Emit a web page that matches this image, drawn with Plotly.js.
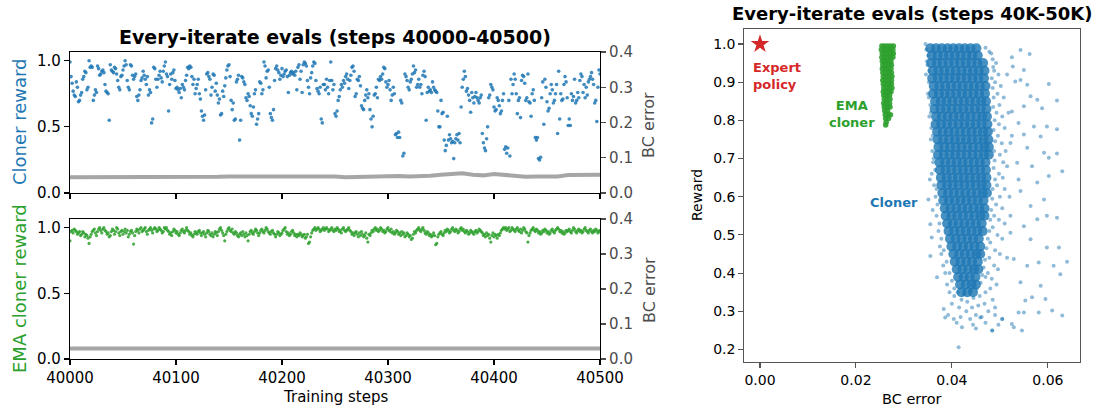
<!DOCTYPE html>
<html><head><meta charset="utf-8">
<script src="https://cdn.plot.ly/plotly-3.0.1.min.js"></script>
<style>html,body{margin:0;padding:0;background:#fff}#chart{width:1094px;height:411px}</style>
</head><body><div id="chart"></div>
<script>
// ---------------- DATA ----------------
const stepStart = 40000;
const stepEnd = 40500;
const stepTicks = [40000, 40100, 40200, 40300, 40400, 40500];

// Cloner reward, one value per training step 40000..40500
const clonerReward = [
0.99,0.88,0.83,0.77,0.74,0.73,0.84,0.80,0.69,0.70,
0.74,0.76,0.86,0.88,0.92,0.91,0.78,0.80,1.00,0.95,
0.96,0.95,0.70,0.74,0.78,0.76,0.96,0.94,0.89,0.90,
0.92,0.93,0.91,0.82,0.77,0.76,0.75,0.55,0.97,0.93,
0.92,0.91,0.95,0.94,0.90,0.85,0.80,0.78,0.88,0.89,
0.93,0.96,1.00,0.97,0.85,0.80,0.78,0.97,0.96,0.89,
0.86,0.88,0.90,0.73,0.70,0.74,0.78,0.85,0.87,0.92,
0.89,0.86,0.82,0.88,0.74,0.78,0.76,0.53,0.56,0.95,
0.94,0.86,0.80,0.86,0.89,0.92,0.87,0.84,0.92,0.96,
0.99,0.90,0.88,0.62,0.82,0.90,0.86,0.91,0.93,0.85,
0.79,0.80,0.78,0.76,0.79,0.72,0.82,0.80,0.78,0.85,
0.89,0.95,0.94,0.96,0.95,0.88,0.82,0.86,0.75,0.79,
0.82,0.86,0.75,0.71,0.62,0.58,0.55,0.59,0.78,0.90,
0.91,0.88,0.86,0.74,0.80,0.90,0.89,0.77,0.83,0.74,
0.68,0.71,0.59,0.60,0.77,0.73,0.81,0.87,0.93,0.96,
0.97,0.88,0.70,0.63,0.68,0.55,0.56,0.84,0.86,0.89,
0.40,0.55,0.88,0.87,0.84,0.82,0.72,0.70,0.75,0.73,
0.66,0.60,0.58,0.65,0.75,0.78,0.52,0.56,0.60,0.84,
0.83,0.75,0.78,0.99,0.96,0.87,0.92,0.93,0.80,0.60,
0.57,0.55,0.63,0.85,0.94,0.96,0.93,0.91,0.86,0.89,
0.94,0.88,0.90,0.92,0.93,0.88,0.76,0.89,0.91,0.92,
0.90,0.91,0.89,0.92,0.78,0.95,0.97,0.86,0.92,0.76,
0.97,0.99,0.98,0.96,0.85,0.80,0.75,0.87,0.91,0.96,
0.99,0.98,0.85,0.79,0.77,0.75,0.80,0.56,0.53,0.82,
0.82,0.78,0.86,0.80,0.75,0.85,0.99,0.85,0.78,0.82,
0.60,0.58,0.62,0.70,0.73,0.78,0.82,0.80,0.85,0.83,
0.88,0.90,0.86,0.79,0.85,0.89,0.95,0.96,0.92,0.73,
0.75,0.86,0.85,0.88,0.81,0.66,0.64,0.63,0.70,0.74,
0.78,0.72,0.75,0.63,0.56,0.50,0.58,0.74,0.75,0.80,
0.72,0.86,0.85,0.88,0.86,0.90,0.95,0.94,0.84,0.80,
0.82,0.85,0.78,0.70,0.74,0.80,0.75,0.44,0.45,0.42,
0.46,0.42,0.70,0.68,0.28,0.30,0.90,0.88,0.85,0.80,
0.78,0.84,0.86,0.90,0.96,0.91,0.93,0.80,0.82,0.86,
0.80,0.82,0.75,0.89,0.92,0.88,0.55,0.76,0.80,0.77,
0.78,0.76,0.84,0.80,0.78,0.77,0.76,0.62,0.50,0.50,
0.70,0.60,0.61,0.40,0.32,0.36,0.58,0.40,0.44,0.41,
0.38,0.39,0.26,0.38,0.41,0.44,0.40,0.45,0.38,0.65,
0.80,0.86,0.92,0.88,0.77,0.79,0.74,0.70,0.61,0.76,
0.72,0.68,0.73,0.76,0.72,0.70,0.68,0.72,0.74,0.45,
0.38,0.34,0.32,0.41,0.50,0.72,0.74,0.82,0.80,0.78,
0.65,0.62,0.63,0.72,0.70,0.66,0.60,0.62,0.70,0.75,
0.33,0.35,0.30,0.34,0.70,0.28,0.86,0.75,0.82,0.90,
0.86,0.75,0.60,0.70,0.72,0.57,0.85,0.89,0.88,0.83,
0.70,0.72,0.90,0.69,0.68,0.58,0.75,0.78,0.70,0.42,
0.40,0.42,0.26,0.25,0.27,0.72,0.84,0.52,0.86,0.80,
0.69,0.62,0.64,0.75,0.82,0.78,0.68,0.70,0.75,0.82,
0.45,0.92,0.56,0.75,0.70,0.71,0.82,0.88,0.84,0.72,
0.51,0.56,0.51,0.75,0.70,0.73,0.86,0.68,0.70,0.76,
0.72,0.85,0.90,0.88,0.76,0.82,0.72,0.80,0.74,0.84,
0.86,0.88,0.91,0.86,0.82,0.68,0.70,0.54,0.80,0.93,
0.90
];

// EMA cloner reward, one value per training step 40000..40500
const emaReward = [
0.90,0.97,0.98,0.96,0.99,0.98,0.97,0.95,0.96,0.97,
0.94,0.95,0.97,0.96,0.93,0.95,0.94,0.92,0.88,0.93,
0.95,0.97,0.98,0.99,0.96,0.94,0.97,0.99,1.00,0.98,
0.96,0.99,1.00,0.98,0.97,0.95,0.96,0.93,0.94,0.97,
0.99,0.98,0.95,0.97,1.00,0.99,0.96,0.94,0.97,0.98,
0.95,0.97,0.99,0.96,0.98,0.93,0.95,0.97,0.98,0.96,
0.875,0.94,0.97,0.99,0.98,0.96,0.99,1.00,0.97,0.98,
0.99,1.00,0.97,0.95,0.98,0.99,1.00,0.98,0.96,0.99,
1.00,0.99,0.97,0.98,1.00,0.99,0.98,0.96,0.97,1.00,
0.99,1.00,0.98,0.97,0.95,0.96,0.94,0.97,0.99,0.98,
0.96,0.97,0.95,0.94,0.96,0.98,0.99,0.97,0.96,0.98,
1.00,0.98,0.97,0.95,0.96,0.94,0.93,0.95,0.97,0.96,
0.95,0.97,0.98,0.96,0.94,0.96,0.97,0.95,0.93,0.96,
0.98,0.97,0.95,0.94,0.96,0.93,0.95,0.97,0.96,0.94,
0.97,0.99,1.00,0.98,0.96,0.94,0.90,0.95,0.97,0.99,
1.00,0.98,0.97,0.99,0.96,0.95,0.97,0.96,0.94,0.93,
0.95,0.96,0.94,0.97,0.95,0.93,0.96,0.94,0.90,0.95,
0.97,0.98,0.96,0.95,0.97,0.99,0.98,0.96,0.94,0.96,
0.98,0.99,0.97,0.96,0.98,1.00,0.99,0.97,0.96,0.95,
0.97,0.98,0.96,0.95,0.93,0.95,0.97,0.96,0.94,0.95,
0.96,0.98,0.99,1.00,0.97,0.95,0.96,0.94,0.95,0.97,
0.98,0.96,0.94,0.95,0.93,0.95,0.94,0.96,0.95,0.93,
0.94,0.95,0.92,0.93,0.95,0.88,0.89,0.93,0.96,0.98,
0.99,1.00,0.98,0.99,1.00,0.99,0.97,0.98,0.99,1.00,
0.98,0.99,1.00,0.99,0.97,0.98,0.99,1.00,0.98,0.97,
0.99,0.98,1.00,0.99,0.97,0.98,0.96,0.99,1.00,0.98,
0.97,0.98,0.99,1.00,0.98,0.97,0.95,0.96,0.94,0.96,
0.97,0.95,0.93,0.96,0.94,0.97,0.95,0.93,0.94,0.96,
0.92,0.89,0.95,0.94,0.96,0.98,0.97,0.99,1.00,0.98,
0.99,0.97,0.98,1.00,0.99,0.97,0.98,0.96,0.97,0.99,
1.00,0.98,0.97,0.99,0.96,0.97,0.95,0.96,0.98,0.97,
0.95,0.96,0.94,0.97,0.95,0.96,0.93,0.94,0.96,0.95,
0.93,0.94,0.91,0.92,0.95,0.97,0.96,0.98,0.99,1.00,
0.98,0.97,0.99,1.00,0.98,0.96,0.95,0.97,0.96,0.94,
0.95,0.93,0.94,0.96,0.94,0.87,0.88,0.93,0.95,0.96,
0.97,0.95,0.94,0.96,0.98,0.97,0.99,0.98,0.96,0.97,
0.99,1.00,0.98,0.97,0.99,0.98,0.96,0.97,0.99,1.00,
0.98,0.99,0.97,0.96,0.98,0.97,0.95,0.96,0.98,0.97,
0.96,0.95,0.97,0.98,0.96,0.97,0.99,0.98,0.97,0.96,
0.94,0.95,0.93,0.96,0.94,0.95,0.92,0.89,0.94,0.96,
0.93,0.95,0.94,0.92,0.95,0.94,0.96,0.98,0.99,1.00,
0.99,1.00,0.98,0.99,1.00,0.97,0.98,1.00,0.99,0.98,
0.97,0.99,1.00,0.98,0.97,0.99,0.96,0.98,1.00,0.99,
0.97,0.96,0.89,0.94,0.96,0.98,0.99,1.00,0.98,0.97,
0.99,0.98,0.96,0.97,0.95,0.96,0.98,0.97,0.99,0.98,
0.96,0.97,0.95,0.96,0.98,0.99,0.97,0.96,0.98,0.99,
1.00,0.99,0.97,0.98,0.96,0.97,0.95,0.96,0.98,0.97,
0.98,0.99,0.97,0.96,0.98,1.00,0.99,0.97,0.96,0.98,
0.99,0.97,0.98,0.96,0.97,0.99,1.00,0.98,0.97,0.96,
0.98,0.99,0.97,0.96,0.98,0.97,0.99,0.98,0.96,0.97,
0.98
];

// BC error, sampled every 10 steps from 40000 to 40500
const bcStride = 10;
const clonerBCError = [
0.045,0.045,0.044,0.045,0.045,0.044,0.044,0.045,0.045,0.046,
0.046,0.045,0.044,0.045,0.046,0.047,0.047,0.047,0.048,0.047,
0.047,0.046,0.046,0.046,0.048,0.047,0.045,0.046,0.046,0.047,
0.048,0.048,0.047,0.047,0.049,0.052,0.055,0.056,0.052,0.050,
0.054,0.051,0.047,0.046,0.047,0.046,0.047,0.051,0.052,0.052,
0.052
];
const emaBCError = [
0.030,0.030,0.030,0.030,0.030,0.030,0.030,0.030,0.030,0.030,
0.030,0.030,0.030,0.030,0.030,0.030,0.030,0.030,0.030,0.030,
0.030,0.030,0.030,0.030,0.031,0.031,0.031,0.030,0.030,0.030,
0.030,0.030,0.030,0.030,0.030,0.030,0.030,0.030,0.030,0.030,
0.030,0.030,0.030,0.030,0.030,0.030,0.030,0.030,0.030,0.030,
0.030
];

// Right panel: BC error vs reward, steps 40K-50K
const expertPoint = {bcError: 0.0, reward: 1.0};

// dense cloner core, rows of [reward, [bc errors...]]
const clonerCoreRows = [
[0.989,[0.0355,0.0367,0.0379,0.0391,0.0403,0.0415,0.0427,0.0439,0.0451]],
[0.970,[0.0358,0.0370,0.0382,0.0394,0.0406,0.0418,0.0430,0.0442,0.0454]],
[0.950,[0.0357,0.0369,0.0381,0.0393,0.0405,0.0417,0.0429,0.0441,0.0453,0.0465]],
[0.930,[0.0360,0.0372,0.0384,0.0396,0.0408,0.0420,0.0432,0.0444,0.0456,0.0468]],
[0.910,[0.0359,0.0371,0.0383,0.0395,0.0407,0.0419,0.0431,0.0443,0.0455,0.0467]],
[0.890,[0.0362,0.0374,0.0386,0.0398,0.0410,0.0422,0.0434,0.0446,0.0458,0.0470]],
[0.870,[0.0361,0.0373,0.0385,0.0397,0.0409,0.0421,0.0433,0.0445,0.0457,0.0469]],
[0.850,[0.0365,0.0377,0.0389,0.0401,0.0413,0.0425,0.0437,0.0449,0.0461,0.0471]],
[0.830,[0.0364,0.0376,0.0388,0.0400,0.0412,0.0424,0.0436,0.0448,0.0460,0.0472]],
[0.810,[0.0367,0.0379,0.0391,0.0403,0.0415,0.0427,0.0439,0.0451,0.0463,0.0473]],
[0.790,[0.0366,0.0378,0.0390,0.0402,0.0414,0.0426,0.0438,0.0450,0.0462,0.0474]],
[0.770,[0.0369,0.0381,0.0393,0.0405,0.0417,0.0429,0.0441,0.0453,0.0465,0.0475]],
[0.750,[0.0370,0.0382,0.0394,0.0406,0.0418,0.0430,0.0442,0.0454,0.0466,0.0476]],
[0.730,[0.0372,0.0384,0.0396,0.0408,0.0420,0.0432,0.0444,0.0456,0.0468,0.0477]],
[0.710,[0.0371,0.0383,0.0395,0.0407,0.0419,0.0431,0.0443,0.0455,0.0467,0.0477]],
[0.690,[0.0374,0.0386,0.0398,0.0410,0.0422,0.0434,0.0446,0.0458,0.0470]],
[0.670,[0.0375,0.0387,0.0399,0.0411,0.0423,0.0435,0.0447,0.0459,0.0471]],
[0.650,[0.0377,0.0389,0.0401,0.0413,0.0425,0.0437,0.0449,0.0461,0.0472]],
[0.630,[0.0378,0.0390,0.0402,0.0414,0.0426,0.0438,0.0450,0.0462,0.0472]],
[0.610,[0.0380,0.0392,0.0404,0.0416,0.0428,0.0440,0.0452,0.0464,0.0473]],
[0.590,[0.0382,0.0394,0.0406,0.0418,0.0430,0.0442,0.0454,0.0466]],
[0.570,[0.0385,0.0397,0.0409,0.0421,0.0433,0.0445,0.0457,0.0468]],
[0.550,[0.0387,0.0399,0.0411,0.0423,0.0435,0.0447,0.0459,0.0468]],
[0.530,[0.0390,0.0402,0.0414,0.0426,0.0438,0.0450,0.0462]],
[0.510,[0.0393,0.0405,0.0417,0.0429,0.0441,0.0453,0.0464]],
[0.490,[0.0396,0.0408,0.0420,0.0432,0.0444,0.0456]],
[0.470,[0.0399,0.0411,0.0423,0.0435,0.0447,0.0459]],
[0.450,[0.0403,0.0415,0.0427,0.0439,0.0451,0.0459]],
[0.430,[0.0406,0.0418,0.0430,0.0442,0.0454]],
[0.410,[0.0410,0.0422,0.0434,0.0446,0.0455]],
[0.390,[0.0413,0.0425,0.0437,0.0449]],
[0.370,[0.0417,0.0429,0.0441,0.0450]],
[0.350,[0.0420,0.0432,0.0444]]
];

// sparser cloner points around the core, [bc error, reward]
const clonerSparse = [
[0.0345,1.0],[0.0347,0.985],[0.0349,0.945],[0.0351,0.97],[0.0346,0.92],[0.0352,0.90],[0.0350,0.87],[0.0355,0.84],
[0.0353,0.81],[0.0357,0.78],[0.0356,0.75],[0.0359,0.72],[0.0361,0.69],[0.0358,0.66],[0.0354,0.645],[0.0363,0.63],
[0.0351,0.593],[0.0366,0.60],[0.0360,0.565],[0.0355,0.528],[0.0368,0.55],[0.0358,0.493],[0.0372,0.51],[0.0375,0.47],
[0.0355,0.445],[0.0378,0.45],[0.0369,0.389],[0.0382,0.42],[0.0386,0.40],[0.0390,0.37],
[0.0348,0.955],[0.0353,0.93],[0.0352,0.86],[0.0356,0.82],[0.0360,0.76],[0.0362,0.70],[0.0365,0.67],[0.0368,0.62],
[0.0370,0.58],[0.0374,0.53],[0.0378,0.49],[0.0383,0.46],[0.0389,0.43],[0.0395,0.40],[0.0400,0.38],[0.0405,0.36],
[0.0395,0.35],[0.0405,0.34],[0.0420,0.33],[0.0432,0.325],[0.0445,0.335],[0.0458,0.34],[0.0470,0.35],[0.0480,0.36],
[0.0400,0.32],[0.0415,0.31],[0.0430,0.30],[0.0442,0.31],[0.0455,0.315],[0.0468,0.32],[0.0485,0.33],[0.0383,0.306],
[0.0392,0.29],[0.0404,0.28],[0.0418,0.285],[0.0438,0.28],[0.0450,0.29],[0.0462,0.285],[0.0476,0.30],[0.0490,0.31],
[0.0459,0.284],[0.0421,0.258],[0.0386,0.284],[0.0444,0.265],[0.0470,0.27],[0.0484,0.25],[0.0505,0.28],[0.0497,0.265],
[0.0414,0.206],[0.0410,0.27],[0.0450,0.255],[0.0490,0.29],[0.0425,0.345],[0.0440,0.355],[0.0452,0.36],[0.0412,0.35],
[0.0470,0.99],[0.0478,0.98],[0.0485,0.96],[0.0492,0.95],[0.0488,0.93],[0.0497,0.92],[0.0490,0.90],[0.0502,0.89],
[0.0495,0.87],[0.0508,0.86],[0.0499,0.84],[0.0493,0.82],[0.0505,0.81],[0.0498,0.79],[0.0510,0.78],[0.0496,0.76],
[0.0504,0.74],[0.0512,0.72],[0.0500,0.71],[0.0507,0.69],[0.0515,0.68],[0.0498,0.66],[0.0506,0.65],[0.0494,0.63],
[0.0510,0.62],[0.0500,0.60],[0.0492,0.58],[0.0505,0.57],[0.0488,0.55],[0.0498,0.54],[0.0510,0.53],[0.0485,0.52],
[0.0495,0.50],[0.0505,0.49],[0.0480,0.48],[0.0490,0.46],[0.0500,0.45],[0.0478,0.44],[0.0488,0.42],[0.0496,0.41],
[0.0475,0.40],[0.0483,0.385],[0.0493,0.37],[0.0470,0.39],[0.0515,0.44],[0.0520,0.60],[0.0518,0.82],[0.0515,0.92],
[0.0525,0.76],[0.0522,0.55],
[0.0482,0.975],[0.0486,0.94],[0.0483,0.91],[0.0485,0.885],[0.0487,0.86],[0.0486,0.835],[0.0489,0.80],[0.0487,0.775],
[0.0490,0.745],[0.0488,0.72],[0.0489,0.695],[0.0487,0.675],[0.0490,0.645],[0.0485,0.62],[0.0484,0.595],[0.0482,0.565],
[0.0480,0.54],[0.0478,0.51],[0.0475,0.49],[0.0472,0.465],[0.0469,0.435],[0.0466,0.415],[0.0463,0.395],[0.0460,0.375],
[0.0525,0.965],[0.0543,0.984],[0.0562,0.974],[0.0527,0.941],[0.0550,0.932],[0.0532,0.902],[0.0543,0.906],[0.0557,0.893],
[0.0602,0.895],[0.0619,0.852],[0.0564,0.863],[0.0578,0.854],[0.0588,0.832],[0.0550,0.837],[0.0525,0.823],[0.0539,0.793],
[0.0571,0.784],[0.0598,0.784],[0.0619,0.777],[0.0550,0.763],[0.0585,0.758],[0.0522,0.741],[0.0557,0.728],[0.0592,0.715],
[0.0619,0.713],[0.0602,0.702],[0.0536,0.689],[0.0567,0.680],[0.0630,0.667],[0.0602,0.654],[0.0539,0.645],[0.0578,0.637],
[0.0543,0.615],[0.0592,0.593],[0.0564,0.576],[0.0598,0.550],[0.0619,0.545],[0.0578,0.541],[0.0550,0.523],[0.0522,0.506],
[0.0564,0.489],[0.0598,0.467],[0.0623,0.467],[0.0640,0.430],[0.0612,0.419],[0.0581,0.428],[0.0557,0.419],[0.0626,0.397],
[0.0529,0.437],[0.0543,0.376],[0.0585,0.367],[0.0567,0.337],[0.0553,0.328],[0.0539,0.297],[0.0550,0.297],[0.0581,0.297],
[0.0609,0.302],[0.0630,0.289],[0.0595,0.332],[0.0529,0.258],[0.0546,0.250],[0.0525,0.267],[0.0484,0.250],[0.0505,0.280]
];

// EMA cloner cloud, rows of [reward, [bc errors...]]
const emaCloudRows = [
[0.995,[0.0254,0.0260,0.0266,0.0272,0.0278]],
[0.985,[0.0253,0.0259,0.0265,0.0271,0.0277]],
[0.975,[0.0255,0.0261,0.0267,0.0273,0.0278]],
[0.965,[0.0254,0.0260,0.0266,0.0272,0.0277]],
[0.955,[0.0255,0.0261,0.0267,0.0273]],
[0.945,[0.0256,0.0262,0.0268,0.0274]],
[0.935,[0.0255,0.0261,0.0267,0.0273]],
[0.925,[0.0256,0.0262,0.0268,0.0274]],
[0.915,[0.0257,0.0263,0.0269,0.0275]],
[0.905,[0.0256,0.0262,0.0268,0.0274]],
[0.895,[0.0257,0.0263,0.0269,0.0274]],
[0.885,[0.0258,0.0264,0.0270,0.0275]],
[0.875,[0.0257,0.0263,0.0269,0.0273]],
[0.865,[0.0258,0.0264,0.0270]],
[0.855,[0.0259,0.0265,0.0271]],
[0.845,[0.0258,0.0264,0.0270]],
[0.835,[0.0259,0.0265,0.0271]],
[0.825,[0.0260,0.0266]],
[0.815,[0.0261,0.0267,0.0272]],
[0.805,[0.0262,0.0268]],
[0.795,[0.0263]],
[0.788,[0.0262]]
];

// ---------------- BUILD ----------------
const W = 1094, H = 411;
const px = v => v / W;
const py = v => 1 - v / H;
const FONT = '"DejaVu Sans", "Liberation Sans", sans-serif';
const BLUE = '#1f77b4', GREEN = '#2ca02c', RED = '#d62728', GREYTXT = '#4d4d4d';

const stepsFor = arr => arr.map((_, i) => stepStart + i);
const bcStepsFor = arr => arr.map((_, i) => stepStart + i * bcStride);

function rowsToXY(rows) {
  const x = [], y = [];
  rows.forEach(([r, xs]) => xs.forEach(b => { x.push(b); y.push(r); }));
  return {x, y};
}
const core = rowsToXY(clonerCoreRows);
const ema = rowsToXY(emaCloudRows);

const traces = [
  {type:'scatter', mode:'markers', x: stepsFor(clonerReward), y: clonerReward, xaxis:'x3', yaxis:'y',
   marker:{color:BLUE, size:3.6, opacity:0.85}, hoverinfo:'skip'},
  {type:'scatter', mode:'lines', x: bcStepsFor(clonerBCError), y: clonerBCError, xaxis:'x3', yaxis:'y2',
   line:{color:'rgba(150,150,150,0.85)', width:4}, hoverinfo:'skip'},
  {type:'scatter', mode:'markers', x: stepsFor(emaReward), y: emaReward, xaxis:'x', yaxis:'y3',
   marker:{color:GREEN, size:3.2, opacity:0.85}, hoverinfo:'skip'},
  {type:'scatter', mode:'lines', x: bcStepsFor(emaBCError), y: emaBCError, xaxis:'x', yaxis:'y4',
   line:{color:'rgba(150,150,150,0.85)', width:4}, hoverinfo:'skip'},
  {type:'scatter', mode:'markers', x: clonerSparse.map(p=>p[0]), y: clonerSparse.map(p=>p[1]), xaxis:'x2', yaxis:'y5',
   marker:{color:BLUE, size:4, opacity:0.5}, hoverinfo:'skip'},
  {type:'scatter', mode:'markers', x: core.x, y: core.y, xaxis:'x2', yaxis:'y5',
   marker:{color:BLUE, size:10, opacity:0.82}, hoverinfo:'skip'},
  {type:'scatter', mode:'markers', x: ema.x, y: ema.y, xaxis:'x2', yaxis:'y5',
   marker:{color:GREEN, size:5.5, opacity:0.9}, hoverinfo:'skip'},
  {type:'scatter', mode:'markers', x:[expertPoint.bcError], y:[expertPoint.reward], xaxis:'x2', yaxis:'y5',
   marker:{color:RED, size:14, symbol:'star'}, hoverinfo:'skip'}
];

const leftX = [px(70), px(600)];
const topY = [py(193), py(52)];
const botY = [py(359), py(219)];
const tickFontL = {family:FONT, size:15, color:'#000'};
const tickFontR = {family:FONT, size:15, color:GREYTXT};
const baseAx = {showgrid:false, zeroline:false, showline:true, linecolor:'#000', linewidth:1.1,
  ticks:'outside', ticklen:5, tickwidth:1.1, tickcolor:'#000', fixedrange:true};

const layout = {
  width:W, height:H, margin:{l:0,r:0,t:0,b:0}, showlegend:false,
  paper_bgcolor:'#fff', plot_bgcolor:'#fff', font:{family:FONT, color:'#000'},
  xaxis: Object.assign({}, baseAx, {domain:leftX, anchor:'y3', range:[stepStart, stepEnd],
    tickvals:stepTicks, ticktext:stepTicks.map(String), tickfont:tickFontL, mirror:true}),
  xaxis3: Object.assign({}, baseAx, {domain:leftX, anchor:'y', range:[stepStart, stepEnd],
    tickvals:stepTicks, showticklabels:false, mirror:true}),
  yaxis: Object.assign({}, baseAx, {domain:topY, anchor:'x3', range:[0,1.066],
    tickvals:[0,0.5,1], ticktext:['0.0','0.5','1.0'], tickfont:tickFontL, mirror:true}),
  yaxis2: Object.assign({}, baseAx, {overlaying:'y', side:'right', anchor:'x3', range:[0,0.4],
    tickvals:[0,0.1,0.2,0.3,0.4], ticktext:['0.0','0.1','0.2','0.3','0.4'], tickfont:tickFontR, tickcolor:GREYTXT}),
  yaxis3: Object.assign({}, baseAx, {domain:botY, anchor:'x', range:[0,1.066],
    tickvals:[0,0.5,1], ticktext:['0.0','0.5','1.0'], tickfont:tickFontL, mirror:true}),
  yaxis4: Object.assign({}, baseAx, {overlaying:'y3', side:'right', anchor:'x', range:[0,0.4],
    tickvals:[0,0.1,0.2,0.3,0.4], ticktext:['0.0','0.1','0.2','0.3','0.4'], tickfont:tickFontR, tickcolor:GREYTXT}),
  xaxis2: Object.assign({}, baseAx, {domain:[px(744.3), px(1080)], anchor:'y5', range:[-0.00327, 0.0667],
    tickvals:[0,0.02,0.04,0.06], ticktext:['0.00','0.02','0.04','0.06'], tickfont:{family:FONT,size:14,color:'#000'},
    linecolor:'#555', tickcolor:'#555', mirror:true}),
  yaxis5: Object.assign({}, baseAx, {domain:[py(361.7), py(29.3)], anchor:'x2', range:[0.168, 1.0385],
    tickvals:[0.2,0.3,0.4,0.5,0.6,0.7,0.8,0.9,1.0], ticktext:['0.2','0.3','0.4','0.5','0.6','0.7','0.8','0.9','1.0'],
    tickfont:{family:FONT,size:14,color:'#000'}, linecolor:'#555', tickcolor:'#555', mirror:true}),
  annotations: [
    {text:'<b>Every-iterate evals (steps 40000-40500)</b>', xref:'paper', yref:'paper', x:px(335), y:py(37),
     xanchor:'center', yanchor:'middle', showarrow:false, font:{family:FONT, size:19, color:'#000'}},
    {text:'<b>Every-iterate evals (steps 40K-50K)</b>', xref:'paper', yref:'paper', x:px(912), y:py(14),
     xanchor:'center', yanchor:'middle', showarrow:false, font:{family:FONT, size:18, color:'#000'}},
    {text:'Cloner reward', xref:'paper', yref:'paper', x:px(19), y:py(122), textangle:-90,
     xanchor:'center', yanchor:'middle', showarrow:false, font:{family:FONT, size:18, color:BLUE}},
    {text:'EMA cloner reward', xref:'paper', yref:'paper', x:px(19), y:py(289), textangle:-90,
     xanchor:'center', yanchor:'middle', showarrow:false, font:{family:FONT, size:18, color:GREEN}},
    {text:'BC error', xref:'paper', yref:'paper', x:px(649), y:py(125), textangle:-90,
     xanchor:'center', yanchor:'middle', showarrow:false, font:{family:FONT, size:16, color:GREYTXT}},
    {text:'BC error', xref:'paper', yref:'paper', x:px(649), y:py(290), textangle:-90,
     xanchor:'center', yanchor:'middle', showarrow:false, font:{family:FONT, size:16, color:GREYTXT}},
    {text:'Training steps', xref:'paper', yref:'paper', x:px(335), y:py(397),
     xanchor:'center', yanchor:'middle', showarrow:false, font:{family:FONT, size:15, color:'#000'}},
    {text:'BC error', xref:'paper', yref:'paper', x:px(912), y:py(399),
     xanchor:'center', yanchor:'middle', showarrow:false, font:{family:FONT, size:14.5, color:'#000'}},
    {text:'Reward', xref:'paper', yref:'paper', x:px(697), y:py(195), textangle:-90,
     xanchor:'center', yanchor:'middle', showarrow:false, font:{family:FONT, size:14, color:'#000'}},
    {text:'<b>Expert<br>policy</b>', xref:'paper', yref:'paper', x:px(751), y:py(76), align:'left',
     xanchor:'left', yanchor:'middle', showarrow:false, font:{family:FONT, size:13, color:RED}},
    {text:'<b>EMA<br>cloner</b>', xref:'paper', yref:'paper', x:px(852), y:py(114), align:'center',
     xanchor:'center', yanchor:'middle', showarrow:false, font:{family:FONT, size:13, color:GREEN}},
    {text:'<b>Cloner</b>', xref:'paper', yref:'paper', x:px(894), y:py(202.5), align:'center',
     xanchor:'center', yanchor:'middle', showarrow:false, font:{family:FONT, size:13, color:BLUE}}
  ]
};

Plotly.newPlot('chart', traces, layout, {displayModeBar:false, staticPlot:true});
</script>
</body></html>
